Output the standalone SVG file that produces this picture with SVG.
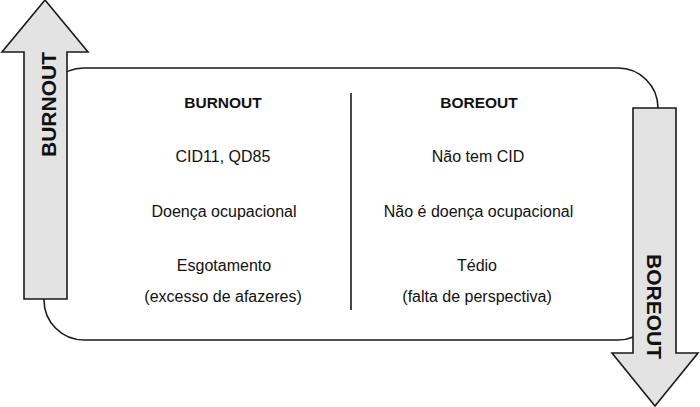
<svg xmlns="http://www.w3.org/2000/svg" width="700" height="407" viewBox="0 0 700 407">
<style>
.arrow{fill:#e3e3e3;stroke:#1a1a1a;stroke-width:1.6;stroke-linejoin:miter}
.conn{fill:none;stroke:#1a1a1a;stroke-width:1.6}
.t{font-family:"Liberation Sans",Arial,sans-serif;font-size:16px;fill:#111;text-anchor:middle}
.h{font-weight:bold;font-size:15.5px}
.big{font-family:"Liberation Sans",Arial,sans-serif;font-size:21px;font-weight:bold;fill:#111;text-anchor:middle}
</style>
<rect width="700" height="407" fill="#fff"/>
<g id="connectors">
<rect class="conn" x="44" y="68" width="614" height="272" rx="40" ry="40"/>
<line class="conn" x1="351" y1="93" x2="351" y2="310"/>
</g>
<g id="burnout-arrow">
<polygon class="arrow" points="45,0 88,52 67,52 67,299 24,299 24,52 2,52"/>
<text class="big" transform="translate(56,104.5) rotate(-90)">BURNOUT</text>
</g>
<g id="boreout-arrow">
<polygon class="arrow" points="633,108 676,108 676,353 698,353 655,406 612,353 633,353"/>
<text class="big" transform="translate(647,306.5) rotate(90)">BOREOUT</text>
</g>
<g id="burnout-col">
<text class="t h" x="223" y="108">BURNOUT</text>
<text class="t" x="223" y="162">CID11, QD85</text>
<text class="t" x="224" y="217">Doença ocupacional</text>
<text class="t" x="224" y="271">Esgotamento</text>
<text class="t" x="223" y="302">(excesso de afazeres)</text>
</g>
<g id="boreout-col">
<text class="t h" x="479" y="108">BOREOUT</text>
<text class="t" x="478" y="162">Não tem CID</text>
<text class="t" x="478.5" y="217">Não é doença ocupacional</text>
<text class="t" x="477" y="271">Tédio</text>
<text class="t" x="477" y="302">(falta de perspectiva)</text>
</g>
</svg>
